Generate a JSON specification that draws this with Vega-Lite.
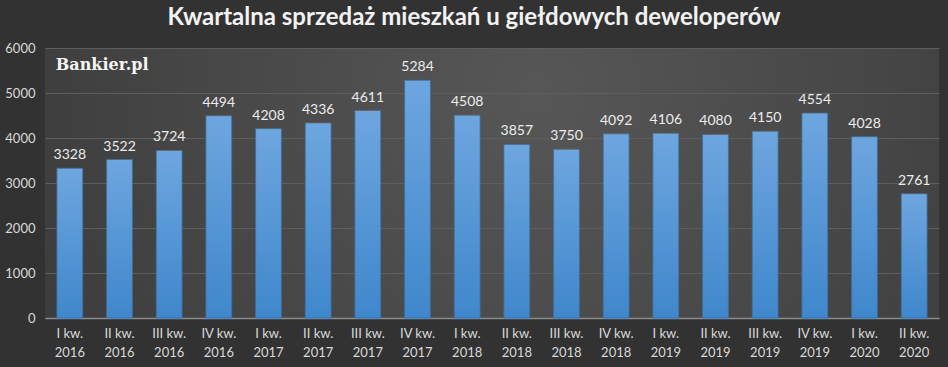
{
  "$schema": "https://vega.github.io/schema/vega-lite/v6.json",
  "width": 948,
  "height": 367,
  "autosize": {"type": "fit", "contains": "padding"},
  "padding": {"left": 4, "right": 9, "top": 6, "bottom": 8},
  "background": "#323232",
  "title": {
    "text": "Kwartalna sprzedaż mieszkań u giełdowych deweloperów",
    "font": "Lato",
    "fontSize": 24,
    "fontWeight": "bold",
    "color": "#f2f2f2",
    "anchor": "middle",
    "dx": -18,
    "offset": 12
  },
  "config": {
    "view": {
      "stroke": null,
      "fill": {
        "gradient": "radial",
        "x1": 0.55, "y1": 0.4, "x2": 0.55, "y2": 0.4, "r1": 0, "r2": 0.75,
        "stops": [
          {"offset": 0, "color": "#575757"},
          {"offset": 1, "color": "#363636"}
        ]
      }
    },
    "font": "Lato"
  },
  "data": {
    "values": [
      {"q": "I kw.|2016", "v": 3328},
      {"q": "II kw.|2016", "v": 3522},
      {"q": "III kw.|2016", "v": 3724},
      {"q": "IV kw.|2016", "v": 4494},
      {"q": "I kw.|2017", "v": 4208},
      {"q": "II kw.|2017", "v": 4336},
      {"q": "III kw.|2017", "v": 4611},
      {"q": "IV kw.|2017", "v": 5284},
      {"q": "I kw.|2018", "v": 4508},
      {"q": "II kw.|2018", "v": 3857},
      {"q": "III kw.|2018", "v": 3750},
      {"q": "IV kw.|2018", "v": 4092},
      {"q": "I kw.|2019", "v": 4106},
      {"q": "II kw.|2019", "v": 4080},
      {"q": "III kw.|2019", "v": 4150},
      {"q": "IV kw.|2019", "v": 4554},
      {"q": "I kw.|2020", "v": 4028},
      {"q": "II kw.|2020", "v": 2761}
    ]
  },
  "encoding": {
    "x": {
      "field": "q",
      "type": "nominal",
      "sort": ["I kw.|2016", "II kw.|2016", "III kw.|2016", "IV kw.|2016", "I kw.|2017", "II kw.|2017", "III kw.|2017", "IV kw.|2017", "I kw.|2018", "II kw.|2018", "III kw.|2018", "IV kw.|2018", "I kw.|2019", "II kw.|2019", "III kw.|2019", "IV kw.|2019", "I kw.|2020", "II kw.|2020"],
      "scale": {"paddingInner": 0.48, "paddingOuter": 0.24},
      "axis": {
        "title": null,
        "labelAngle": 0,
        "labelExpr": "split(datum.label, '|')",
        "labelColor": "#d9d9d9",
        "labelFontSize": 13,
        "labelLineHeight": 19,
        "labelPadding": 9,
        "ticks": false,
        "domainColor": "#8a8a8a",
        "domainWidth": 1.5
      }
    },
    "y": {
      "field": "v",
      "type": "quantitative",
      "scale": {"domain": [0, 6000]},
      "axis": {
        "title": null,
        "values": [0, 1000, 2000, 3000, 4000, 5000, 6000],
        "format": "d",
        "labelColor": "#d9d9d9",
        "labelFontSize": 13,
        "labelPadding": 10,
        "ticks": false,
        "domain": false,
        "gridColor": "#5e5e5e",
        "gridWidth": 1
      }
    }
  },
  "layer": [
    {
      "mark": {
        "type": "bar",
        "stroke": "#3d6e9c",
        "strokeWidth": 0.8,
        "fill": {
          "gradient": "linear",
          "x1": 0, "y1": 0, "x2": 0, "y2": 1,
          "stops": [
            {"offset": 0, "color": "#6ea6df"},
            {"offset": 1, "color": "#3f87cc"}
          ]
        }
      }
    },
    {
      "mark": {"type": "text", "baseline": "bottom", "dy": -6, "fontSize": 14, "color": "#ececec"},
      "encoding": {"text": {"field": "v", "type": "quantitative", "format": "d"}}
    },
    {
      "data": {"values": [{"t": "Bankier.pl", "q": "I kw.|2016", "v": 5620}]},
      "mark": {"type": "text", "align": "left", "baseline": "middle", "dx": -14, "font": "DejaVu Serif", "fontWeight": "bold", "fontSize": 16, "color": "#f5f5f5"},
      "encoding": {"text": {"field": "t"}}
    }
  ]
}
